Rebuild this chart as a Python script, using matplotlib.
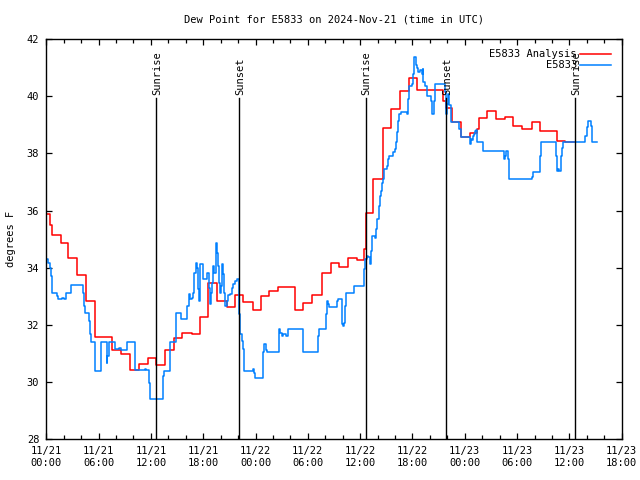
import matplotlib
matplotlib.use("Agg")
import matplotlib.pyplot as plt
from matplotlib.ticker import MultipleLocator, FuncFormatter

plt.rcParams['font.family'] = ['DejaVu Sans Mono']
plt.rcParams['font.size'] = 7

# hours since 2024-11-21 00:00 UTC
analysis_hours = [0.0, 0.42, 0.65, 1.69, 2.52, 3.56, 4.52, 5.55, 7.50, 8.60, 9.60, 10.63,
                  11.67, 12.58, 13.62, 14.68, 15.60, 16.68, 17.63, 18.58, 19.55, 20.69,
                  21.65, 22.60, 23.71, 24.63, 25.55, 26.54, 28.53, 29.48, 30.51, 31.66,
                  32.62, 33.58, 34.57, 35.61, 36.44, 36.67, 37.51, 38.59, 39.54, 40.57,
                  41.64, 42.49, 45.54, 45.85, 46.57, 47.54, 48.60, 49.44, 49.67, 50.52,
                  51.59, 52.62, 53.57, 54.60, 55.68, 56.63, 58.55, 59.50, 60.53]
analysis_temp = [35.88, 35.50, 35.14, 34.87, 34.33, 33.76, 32.83, 31.58, 31.11, 31.00, 30.44, 30.65,
                 30.86, 30.59, 31.11, 31.56, 31.73, 31.67, 32.29, 33.46, 32.82, 32.64,
                 33.04, 32.81, 32.51, 33.02, 33.19, 33.34, 32.53, 32.75, 33.04, 33.83,
                 34.15, 34.02, 34.35, 34.27, 34.65, 35.91, 37.10, 38.87, 39.55, 40.19,
                 40.65, 40.20, 39.84, 39.57, 39.08, 38.56, 38.70, 38.85, 39.22, 39.47,
                 39.20, 39.26, 38.95, 38.85, 39.08, 38.77, 38.44, 38.41, 38.41]

station_hours = [0.05, 0.2, 0.42, 0.5, 0.69, 1.26, 1.38, 1.84, 2.03, 2.23, 2.87, 4.24, 4.32, 4.44,
                 4.90, 4.98, 5.09, 5.55, 6.31, 6.93, 7.0, 7.19, 7.85, 8.34, 8.53, 9.29, 10.18,
                 11.29, 11.40, 11.82, 11.90, 13.42, 13.54, 14.19, 14.88, 15.42, 16.11, 16.4,
                 16.48, 16.68, 16.86, 16.98, 17.14, 17.29, 17.44, 17.55, 17.63, 18.01, 18.47,
                 18.63, 18.78, 18.89, 19.04, 19.16, 19.27, 19.43, 19.50, 19.58, 19.70, 19.81,
                 19.92, 20.04, 20.19, 20.30, 20.42, 20.53, 20.69, 20.88, 21.07, 21.27, 21.45,
                 21.65, 21.84, 22.07, 22.22, 22.41, 22.60, 22.71, 23.68, 23.83, 23.94, 24.89,
                 25.01, 25.17, 25.28, 26.69, 26.81, 27.0, 27.19, 27.46, 27.69, 29.41, 29.48,
                 31.13, 31.20, 31.31, 32.08, 32.16, 32.28, 32.39, 33.31, 33.50, 33.69, 33.89,
                 33.95, 34.07, 34.15, 34.27, 34.38, 35.30, 36.48, 36.56, 36.75, 36.94, 37.13,
                 37.25, 37.33, 37.70, 37.82, 37.97, 38.13, 38.28, 38.40, 38.51, 38.66, 38.77,
                 39.05, 39.23, 39.34, 39.80, 40.0, 40.11, 40.26, 40.38, 40.49, 40.65, 41.34,
                 41.52, 41.64, 41.91, 42.03, 42.21, 42.37, 42.49, 42.67, 42.87, 43.06, 43.18,
                 43.24, 43.44, 43.63, 44.13, 44.21, 44.47, 44.59, 45.73, 45.85, 46.0, 46.08,
                 46.19, 46.39, 47.37, 47.57, 48.60, 48.68, 48.80, 48.91, 49.06, 49.18, 49.26,
                 49.37, 49.44, 50.13, 52.54, 52.65, 52.73, 53.0, 53.11, 55.68, 55.86, 56.63,
                 56.75, 58.43, 58.55, 58.73, 58.85, 59.01, 59.12, 59.31, 61.80, 61.99, 62.18,
                 62.49, 62.64, 63.14]
station_temp = [34.32, 34.18, 34.0, 33.72, 33.13, 33.02, 32.9, 32.95, 32.9, 33.11, 33.41, 33.11, 32.67, 32.43,
                32.14, 31.67, 31.4, 30.39, 31.4, 30.68, 30.92, 31.4, 31.15, 31.2, 31.12, 31.42, 30.41,
                30.45, 30.41, 29.98, 29.42, 30.22, 30.39, 31.42, 32.4, 32.2, 32.67, 33.08,
                32.9, 32.95, 33.13, 33.83, 34.18, 34.0, 33.25, 32.84, 34.12, 33.6, 33.83,
                33.3, 32.73, 33.13, 33.48, 34.07, 33.83, 34.24, 34.86, 34.53, 34.07, 33.48,
                33.13, 33.37, 34.12, 33.77, 33.13, 32.67, 32.84, 33.04, 33.07, 33.3, 33.42,
                33.53, 33.62, 32.37, 31.67, 31.45, 31.15, 30.39, 30.45, 30.33, 30.16, 31.06,
                31.35, 31.12, 31.06, 31.85, 31.72, 31.62, 31.68, 31.62, 31.87, 31.37, 31.06,
                31.35, 31.62, 31.87, 32.37, 32.84, 32.72, 32.61, 32.84, 32.92, 32.9, 32.49,
                32.02, 31.96, 32.08, 32.67, 33.13, 33.37, 33.95, 34.3, 34.42, 34.36, 34.12,
                34.59, 35.11, 35.03, 35.35, 35.7, 36.17, 36.52, 36.7, 36.98, 37.1, 37.45,
                37.57, 37.8, 37.92, 38.03, 38.15, 38.38, 38.73, 39.14, 39.37, 39.43, 39.37,
                39.9, 40.37, 40.43, 40.78, 41.38, 41.1, 40.98, 40.83, 40.93, 40.78, 40.95,
                40.48, 40.37, 40.02, 39.84, 39.37, 39.84, 40.43, 40.13, 39.37, 39.72, 40.07,
                39.7, 39.08, 38.85, 38.56, 38.33, 38.5, 38.45, 38.62, 38.68, 38.79, 38.83,
                38.68, 38.39, 38.09, 37.8, 37.91, 38.09, 37.8, 37.12, 37.16, 37.36, 37.92,
                38.39, 37.92, 37.39, 37.45, 37.39, 37.92, 38.2, 38.39, 38.62, 38.91, 39.14,
                38.97, 38.41, 38.41]

sun_hours = [12.64, 22.11, 36.63, 45.87, 60.69]
sun_labels = ['Sunrise', 'Sunset', 'Sunrise', 'Sunset', 'Sunrise']
day_names = ['11/21', '11/22', '11/23', '11/24']

fig = plt.figure(figsize=(6.4, 4.8), dpi=100)
ax = fig.add_axes([0.0723, 0.0848, 0.8991, 0.834])

ax.plot(analysis_hours, analysis_temp, drawstyle='steps-post', color='#ff0000', lw=1.1,
        label='E5833 Analysis')
ax.plot(station_hours, station_temp, drawstyle='steps-post', color='#0080ff', lw=1.1,
        label='E5833')

for h, name in zip(sun_hours, sun_labels):
    ax.plot([h, h], [28, 39.92], color='black', lw=1.0)
    ax.text(h + 0.1, 40.05, name, rotation=90, ha='center', va='bottom', fontsize=7.5)

ax.set_xlim(0, 66)
ax.set_ylim(28, 42)
ax.xaxis.set_major_locator(MultipleLocator(6))
ax.xaxis.set_minor_locator(MultipleLocator(2))
ax.yaxis.set_major_locator(MultipleLocator(2))
ax.xaxis.set_major_formatter(FuncFormatter(
    lambda v, p: '%s\n%02d:00' % (day_names[int(v // 24)], int(v % 24))))
ax.tick_params(which='both', direction='in', top=True, right=True, width=0.9)
ax.tick_params(which='major', length=4.5, labelsize=7.5, pad=5)
ax.tick_params(which='minor', length=3)
for s in ax.spines.values():
    s.set_linewidth(1.0)

ax.set_ylabel('degrees F', fontsize=7.5, labelpad=8)
ax.set_title('Dew Point for E5833 on 2024-Nov-21 (time in UTC)', fontsize=7.5, pad=12)
ax.legend(loc='upper right', frameon=False, markerfirst=False, fontsize=7.5,
          handlelength=3.0, handletextpad=0.3, labelspacing=0.1, borderaxespad=0.6)

fig.savefig('out.png', dpi=100)
